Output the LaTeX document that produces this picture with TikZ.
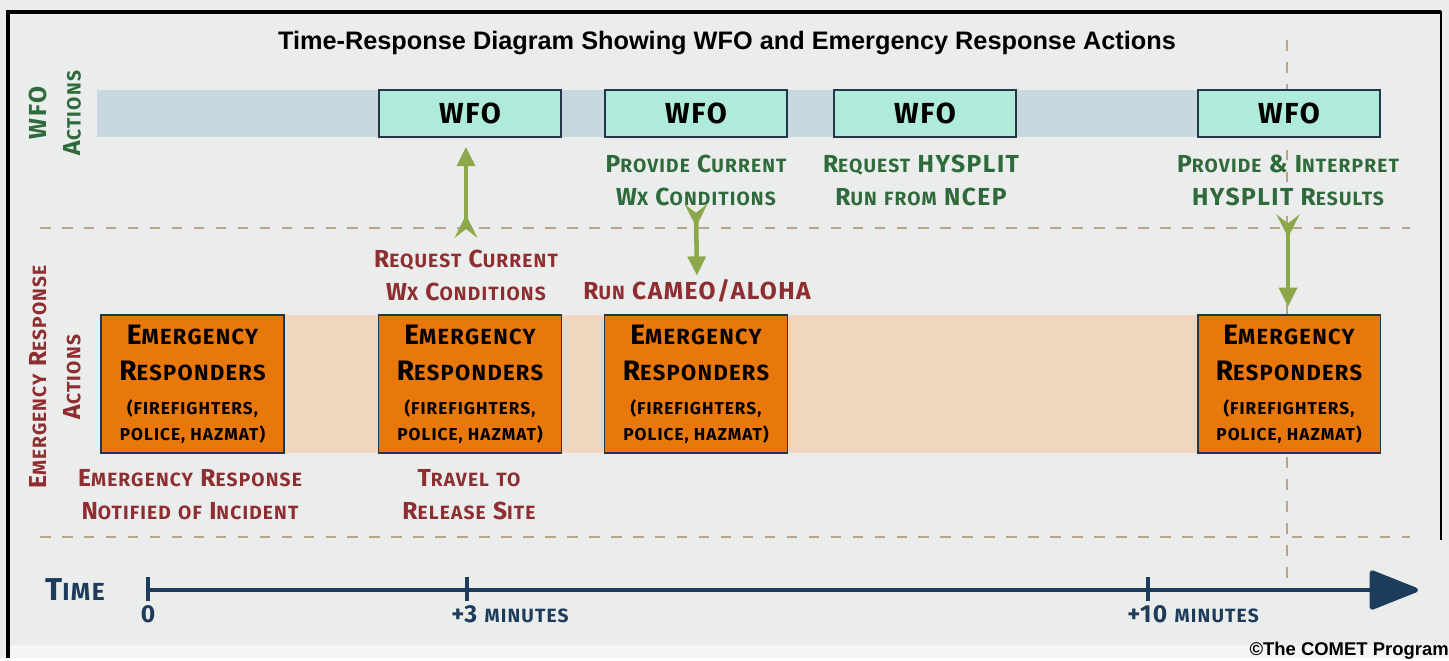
\documentclass[tikz,border=0pt]{standalone}
\usepackage{fontspec}
\setmainfont{Fira Sans}[LetterSpace=6]
\newfontfamily\arialfont{Liberation Sans}
\usetikzlibrary{arrows.meta,positioning}

\definecolor{bgray}{HTML}{EBECEC}
\definecolor{wfobar}{HTML}{C8D8E1}
\definecolor{mint}{HTML}{AEEBDA}
\definecolor{boxline}{HTML}{233748}
\definecolor{peach}{HTML}{EFD7BF}
\definecolor{erorange}{HTML}{E8780C}
\definecolor{wfogreen}{HTML}{2E6A3A}
\definecolor{erred}{HTML}{8E2E30}
\definecolor{agreen}{HTML}{8DA84A}
\definecolor{navy}{HTML}{1D3C5C}
\definecolor{dashtan}{HTML}{B9A68A}

% small caps made by hand
\makeatletter
\newcommand\lsc[1]{{\fontsize{\fpeval{0.78*\f@size}}{\f@baselineskip}\selectfont\MakeUppercase{#1}}}
\def\fsc#1{\fsc@a#1\@nil}
\def\fsc@a#1#2\@nil{#1\lsc{#2}}
\makeatother
\newcommand\smallline{\bfseries\fontsize{9.8}{12}\selectfont}

\begin{document}
\begin{tikzpicture}[x=0.02cm,y=-0.02cm,
  wfobox/.style={draw=boxline, fill=mint, line width=1.1pt, minimum width=3.64cm, minimum height=0.94cm, inner sep=0pt, font=\bfseries\fontsize{16.5}{18}\selectfont},
  erbox/.style={draw=boxline, fill=erorange, line width=1.1pt, minimum width=3.66cm, minimum height=2.76cm, inner sep=0pt, align=center, font=\bfseries\fontsize{16}{21.6}\selectfont},
  greentxt/.style={text=wfogreen, align=center, inner sep=2pt, font=\bfseries\fontsize{14}{18.8}\selectfont},
  redtxt/.style={text=erred, align=center, inner sep=2pt, font=\bfseries\fontsize{14}{18.8}\selectfont},
  sidelab/.style={rotate=90, align=center, font=\bfseries\fontsize{14}{19.5}\selectfont},
  garrow/.style={draw=agreen, line width=2.6pt, arrows={Stealth[reversed,length=13pt,width=13pt,inset=5pt]-Triangle[length=11pt,width=10pt]}},
  dashline/.style={draw=dashtan, line width=0.9pt, dash pattern=on 6pt off 6.5pt},
  timelab/.style={text=navy, font=\bfseries\fontsize{14}{16}\selectfont}]

  % frame and background
  \fill[bgray] (0,0) rectangle (1449,658);
  \fill[white!96!black] (8,645) rectangle (1449,658);
  \draw[black, line width=2.4pt] (1441,12) -- (8,12) -- (8,658);
  \draw[black, line width=1.6pt] (1441,11) -- (1441,540);

  \node[font=\arialfont\bfseries\fontsize{14.4}{16}\selectfont] (title) at (727,43)
    {Time-Response Diagram Showing WFO and Emergency Response Actions};

  % bands
  \fill[wfobar] (97,90) rectangle (1380,137);
  \fill[peach] (100,315) rectangle (1380,453);

  \draw[dashline] (40,228) -- (1410,228);
  \draw[dashline] (40,537) -- (1410,537);
  \draw[dashline] (1287,40) -- (1287,590);

  \node[sidelab, text=wfogreen] (wfolab) at (55,113) {WFO\\\fsc{Actions}};
  \node[sidelab, text=erred] (erlab) at (55,377) {\fsc{Emergency} \fsc{Response}\\\fsc{Actions}};

  % WFO row
  \node[wfobox] (wfo1) at (470,113.5) {WFO};
  \node[wfobox] (wfo2) at (696,113.5) {WFO};
  \node[wfobox] (wfo3) at (925,113.5) {WFO};
  \node[wfobox] (wfo4) at (1289,113.5) {WFO};

  \node[greentxt] (prov) at (696,180) {\fsc{Provide} \fsc{Current}\\\fsc{Wx} \fsc{Conditions}};
  \node[greentxt] (hysreq) at (921,180) {\fsc{Request} HYSPLIT\\\fsc{Run} \lsc{from} NCEP};
  \node[greentxt] (interp) at (1288,180) {\fsc{Provide} \& \fsc{Interpret}\\HYSPLIT \fsc{Results}};

  % responder row
  \foreach \n/\x in {er1/192.5, er2/470, er3/696, er4/1289}
    \node[erbox] (\n) at (\x,384) {\fsc{Emergency}\\[-1pt]\fsc{Responders}\\[-2.5pt]
      {\smallline (FIREFIGHTERS,}\\[-6.8pt]{\smallline POLICE, HAZMAT)}};

  \node[redtxt] (req) at (466,275) {\fsc{Request} \fsc{Current}\\\fsc{Wx} \fsc{Conditions}};
  \node[redtxt] (run) at (697,291) {\fsc{Run} CAMEO/ALOHA};
  \node[redtxt] (notif) at (190,495) {\fsc{Emergency} \fsc{Response}\\\fsc{Notified} \lsc{of} \fsc{Incident}};
  \node[redtxt] (travel) at (469,495) {\fsc{Travel} \lsc{to}\\\fsc{Release} \fsc{Site}};

  \draw[garrow, shorten <=4.5pt, shorten >=5pt] (req.north) -- (req.north |- wfo1.south);
  \draw[garrow, shorten <=-3pt] (prov.south) -- (run.north);
  \draw[garrow, shorten <=3pt, shorten >=4pt] (interp.south) -- (interp.south |- er4.north);

  % time axis
  \foreach \n/\x in {t0/148, t3/467, t10/1148}
    \coordinate (\n) at (\x,590);
  \coordinate (tend) at (1418,590);
  \draw[navy, line width=2.8pt, -{Triangle[length=30pt,width=23pt,round]}] (t0) -- (tend);
  \foreach \n in {t0,t3,t10}
    \draw[navy, line width=2.3pt] ([yshift=7.5pt]\n) -- ([yshift=-6pt]\n);

  \node[text=navy, font=\bfseries\fontsize{18}{20}\selectfont] (timelab) at (75,590) {\fsc{Time}};
  \node[timelab] (l0) at (148,614) {0};
  \node[timelab] (l3) at (510,614) {+3 \lsc{minutes}};
  \node[timelab] (l10) at (1193,614) {+10 \lsc{minutes}};

  \node[anchor=east, inner sep=0pt, font=\arialfont\bfseries\fontsize{10.5}{12}\selectfont] (credit) at (1449,651)
    {\textcopyright The COMET Program};
\end{tikzpicture}
\end{document}
